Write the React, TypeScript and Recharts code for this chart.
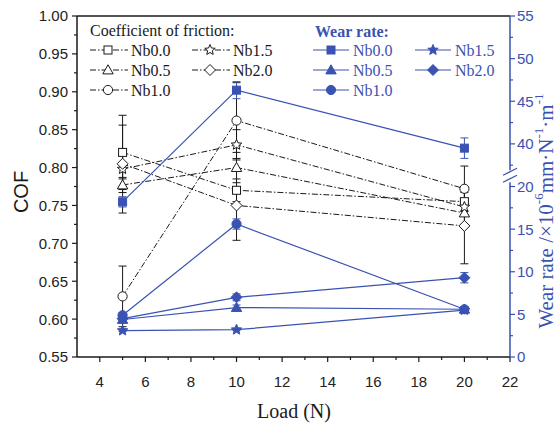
import React from 'react';
import { LineChart, Line, XAxis, YAxis, ErrorBar, ReferenceLine, Customized } from 'recharts';

// ---------- data ----------
const loads = [5, 10, 20];
const seriesNames = ['Nb0.0', 'Nb0.5', 'Nb1.0', 'Nb1.5', 'Nb2.0'];
const shapes = ['square', 'triangle', 'circle', 'star', 'diamond'];

// Coefficient of friction
const cofNb00 = [0.820, 0.770, 0.755];
const cofNb05 = [0.777, 0.800, 0.740];
const cofNb10 = [0.630, 0.862, 0.772];
const cofNb15 = [0.798, 0.830, 0.748];
const cofNb20 = [0.805, 0.750, 0.723];
const cofErrNb00 = [0.049, 0.015, 0.012];
const cofErrNb05 = [0.010, 0.020, 0.015];
const cofErrNb10 = [0.040, 0.050, 0.030];
const cofErrNb15 = [0.058, 0.020, 0.010];
const cofErrNb20 = [0.020, 0.046, 0.050];

// Wear rate (x10^-6 mm N^-1 m^-1)
const wearNb00 = [18.2, 46.3, 39.5];
const wearNb05 = [4.4, 5.8, 5.6];
const wearNb10 = [4.9, 15.6, 5.6];
const wearNb15 = [3.1, 3.2, 5.5];
const wearNb20 = [4.5, 7.0, 9.3];
const wearErrNb00 = [0.6, 1.0, 1.2];
const wearErrNb05 = [0.2, 0.3, 0.3];
const wearErrNb10 = [0.3, 0.6, 0.3];
const wearErrNb15 = [0.1, 0.1, 0.2];
const wearErrNb20 = [0.2, 0.4, 0.6];

// ticks
const xTicks = [4, 5, 6, 7, 8, 9, 10, 11, 12, 13, 14, 15, 16, 17, 18, 19, 20, 21, 22];
const cofTicks = [0.55, 0.575, 0.6, 0.625, 0.65, 0.675, 0.7, 0.725, 0.75, 0.775, 0.8, 0.825, 0.85, 0.875, 0.9, 0.925, 0.95, 0.975, 1.0];
// wear axis ticks in real units (lower segment 0-20, upper 37.5-55, broken between)
const wearTicks = [0, 2.5, 5, 7.5, 10, 12.5, 15, 17.5, 20, 37.5, 40, 42.5, 45, 47.5, 50, 52.5, 55];
const wearBreakAt = 21.2; // axis-break position (axis units)
const BREAK_OFFSET = 15; // upper segment shifted down by 15 units

const cofValues = [cofNb00, cofNb05, cofNb10, cofNb15, cofNb20];
const cofErrs = [cofErrNb00, cofErrNb05, cofErrNb10, cofErrNb15, cofErrNb20];
const wearValues = [wearNb00, wearNb05, wearNb10, wearNb15, wearNb20];
const wearErrs = [wearErrNb00, wearErrNb05, wearErrNb10, wearErrNb15, wearErrNb20];

// broken-axis mapping
const toAxis = (v: number) => (v > 20 ? v - BREAK_OFFSET : v);
const fromAxis = (t: number) => (t > 20 ? t + BREAK_OFFSET : t);

const data = loads.map((x, i) => {
  const row: any = { x };
  seriesNames.forEach((_, s) => {
    row['c' + s] = cofValues[s][i];
    row['ce' + s] = cofErrs[s][i];
    row['w' + s] = toAxis(wearValues[s][i]);
    row['we' + s] = wearErrs[s][i];
  });
  return row;
});

// ---------- style ----------
const BLUE = '#3a52b2';
const BLACK = '#1a1a1a';
const SANS = '"Liberation Sans", Arial, sans-serif';
const SERIF = '"Liberation Serif", "Times New Roman", serif';
const DASH = '6 2 1.5 2';

function Marker({ cx, cy, shape, filled, color, r = 4 }: any) {
  if (cx == null || cy == null) return null;
  const common = { fill: filled ? color : '#fff', stroke: color, strokeWidth: 1 };
  switch (shape) {
    case 'square':
      return <rect x={cx - r} y={cy - r} width={2 * r} height={2 * r} {...common} />;
    case 'circle':
      return <circle cx={cx} cy={cy} r={r + 0.6} {...common} />;
    case 'triangle': {
      const R = r + 1.2;
      return <polygon points={`${cx},${cy - R} ${cx + R},${cy + R * 0.75} ${cx - R},${cy + R * 0.75}`} {...common} />;
    }
    case 'diamond': {
      const R = r + 1.5;
      return <polygon points={`${cx},${cy - R} ${cx + R},${cy} ${cx},${cy + R} ${cx - R},${cy}`} {...common} />;
    }
    case 'star': {
      const R = r + 1.5;
      const ri = R * 0.45;
      const pts: string[] = [];
      for (let k = 0; k < 10; k++) {
        const rad = k % 2 === 0 ? R : ri;
        const a = -Math.PI / 2 + (k * Math.PI) / 5;
        pts.push(`${cx + rad * Math.cos(a)},${cy + rad * Math.sin(a)}`);
      }
      return <polygon points={pts.join(' ')} {...common} />;
    }
    default:
      return null;
  }
}

function XTick({ x, y, payload }: any) {
  const v = payload.value;
  const major = v % 2 === 0;
  return (
    <g>
      <line x1={x} x2={x} y1={y} y2={y + (major ? 5 : 3)} stroke={BLACK} strokeWidth={1.2} />
      {major && (
        <text x={x} y={y + 30} textAnchor="middle" fontFamily={SANS} fontSize={15} fill="#222">
          {v}
        </text>
      )}
    </g>
  );
}

function CofTick({ x, y, payload }: any) {
  const v = payload.value;
  const major = Math.round(v * 1000) % 50 === 0;
  return (
    <g>
      <line x1={x - (major ? 5 : 3)} x2={x} y1={y} y2={y} stroke={BLACK} strokeWidth={1.2} />
      {major && (
        <text x={x - 9} y={y} dy="0.36em" textAnchor="end" fontFamily={SANS} fontSize={15} fill="#222">
          {v.toFixed(2)}
        </text>
      )}
    </g>
  );
}

function WearTick({ x, y, payload }: any) {
  const t = payload.value;
  if (t === wearBreakAt) {
    return (
      <g>
        <rect x={x - 4} y={y - 6} width={8} height={12} fill="#fff" />
        <line x1={x - 7} y1={y - 1} x2={x + 7} y2={y - 8} stroke={BLUE} strokeWidth={1.2} />
        <line x1={x - 7} y1={y + 6} x2={x + 7} y2={y - 1} stroke={BLUE} strokeWidth={1.2} />
      </g>
    );
  }
  const v = fromAxis(t);
  const major = Math.round(v * 10) % 50 === 0;
  return (
    <g>
      <line x1={x} x2={x + (major ? 5 : 3)} y1={y} y2={y} stroke={BLUE} strokeWidth={1.2} />
      {major && (
        <text x={x + 7} y={y} dy="0.36em" textAnchor="start" fontFamily={SANS} fontSize={15} fill={BLUE}>
          {v}
        </text>
      )}
    </g>
  );
}

const cofLegendPos = [[90, 50], [90, 70], [90, 90], [192, 50], [192, 70]];
const wearLegendPos = [[313, 50], [313, 70], [313, 90], [415, 50], [415, 70]];

function Decorations() {
  return (
    <g>
      {/* COF legend */}
      <text x={90} y={36} fontFamily={SERIF} fontSize={16} fill={BLACK}>
        Coefficient of friction:
      </text>
      {seriesNames.map((n, i) => {
        const [lx, ly] = cofLegendPos[i];
        return (
          <g key={'cl' + n}>
            <line x1={lx} x2={lx + 38} y1={ly} y2={ly} stroke={BLACK} strokeWidth={1} strokeDasharray={DASH} />
            <Marker cx={lx + 18} cy={ly} shape={shapes[i]} filled={false} color={BLACK} />
            <text x={lx + 41} y={ly + 5.5} fontFamily={SERIF} fontSize={16} fill={BLACK}>
              {n}
            </text>
          </g>
        );
      })}
      {/* Wear legend */}
      <text x={315} y={37} fontFamily={SERIF} fontSize={16} fontWeight="bold" fill={BLUE}>
        Wear rate:
      </text>
      {seriesNames.map((n, i) => {
        const [lx, ly] = wearLegendPos[i];
        return (
          <g key={'wl' + n}>
            <line x1={lx} x2={lx + 36} y1={ly} y2={ly} stroke={BLUE} strokeWidth={1.2} />
            <Marker cx={lx + 18} cy={ly} shape={shapes[i]} filled={true} color={BLUE} />
            <text x={lx + 40} y={ly + 5.5} fontFamily={SERIF} fontSize={16} fill={BLUE}>
              {n}
            </text>
          </g>
        );
      })}
      {/* axis titles */}
      <text x={21} y={192} transform="rotate(-90 21 192)" textAnchor="middle" dominantBaseline="central" fontFamily={SANS} fontSize={20} fill={BLACK}>
        COF
      </text>
      <text x={294} y={418} textAnchor="middle" fontFamily={SERIF} fontSize={20} fill={BLACK}>
        Load (N)
      </text>
      <text x={546} y={211} transform="rotate(-90 546 211)" textAnchor="middle" dominantBaseline="central" fontFamily={SERIF} fontSize={21} fill={BLUE}>
        Wear rate /×10<tspan dy={-8} fontSize={13}>-6</tspan>
        <tspan dy={8}>mm·N</tspan>
        <tspan dy={-8} fontSize={13}>-1</tspan>
        <tspan dy={8}>·m</tspan>
        <tspan dy={-8} fontSize={13}>-1</tspan>
      </text>
    </g>
  );
}

export default function App() {
  const wearAxisTicks = [...wearTicks.map(toAxis), wearBreakAt].sort((a, b) => a - b);
  return (
    <div style={{ position: 'absolute', left: 0, top: 0, width: 559, height: 425, background: '#fff' }}>
      <LineChart width={559} height={425} data={data} margin={{ top: 16, right: 9, bottom: 38, left: 17 }}>
        <XAxis
          type="number"
          dataKey="x"
          domain={[3, 22]}
          ticks={xTicks}
          interval={0}
          allowDataOverflow
          height={30}
          tickSize={0}
          tickMargin={0}
          tickLine={false}
          axisLine={{ stroke: BLACK, strokeWidth: 1.5 }}
          tick={(p: any) => <XTick {...p} />}
        />
        <YAxis
          yAxisId="cof"
          orientation="left"
          type="number"
          domain={[0.55, 1.0]}
          ticks={cofTicks}
          interval={0}
          allowDataOverflow
          width={60}
          tickSize={0}
          tickMargin={0}
          tickLine={false}
          axisLine={{ stroke: BLACK, strokeWidth: 1.5 }}
          tick={(p: any) => <CofTick {...p} />}
        />
        <YAxis
          yAxisId="wear"
          orientation="right"
          type="number"
          domain={[0, 40]}
          ticks={wearAxisTicks}
          interval={0}
          allowDataOverflow
          width={40}
          tickSize={0}
          tickMargin={0}
          tickLine={false}
          axisLine={{ stroke: BLUE, strokeWidth: 1.5 }}
          tick={(p: any) => <WearTick {...p} />}
        />
        <ReferenceLine yAxisId="cof" y={1.0} stroke={BLACK} strokeWidth={1.5} />
        {seriesNames.map((n, s) => (
          <Line
            key={'c' + n}
            yAxisId="cof"
            dataKey={'c' + s}
            name={'COF ' + n}
            stroke={BLACK}
            strokeWidth={1}
            strokeDasharray={DASH}
            isAnimationActive={false}
            dot={(p: any) => <Marker key={'cd' + s + '-' + p.index} cx={p.cx} cy={p.cy} shape={shapes[s]} filled={false} color={BLACK} />}
            activeDot={false}
          >
            <ErrorBar dataKey={'ce' + s} direction="y" width={4} stroke={BLACK} strokeWidth={1} />
          </Line>
        ))}
        {seriesNames.map((n, s) => (
          <Line
            key={'w' + n}
            yAxisId="wear"
            dataKey={'w' + s}
            name={'Wear ' + n}
            stroke={BLUE}
            strokeWidth={1.2}
            isAnimationActive={false}
            dot={(p: any) => <Marker key={'wd' + s + '-' + p.index} cx={p.cx} cy={p.cy} shape={shapes[s]} filled={true} color={BLUE} />}
            activeDot={false}
          >
            <ErrorBar dataKey={'we' + s} direction="y" width={4} stroke={BLUE} strokeWidth={1} />
          </Line>
        ))}
        <Customized component={() => <Decorations />} />
      </LineChart>
    </div>
  );
}
